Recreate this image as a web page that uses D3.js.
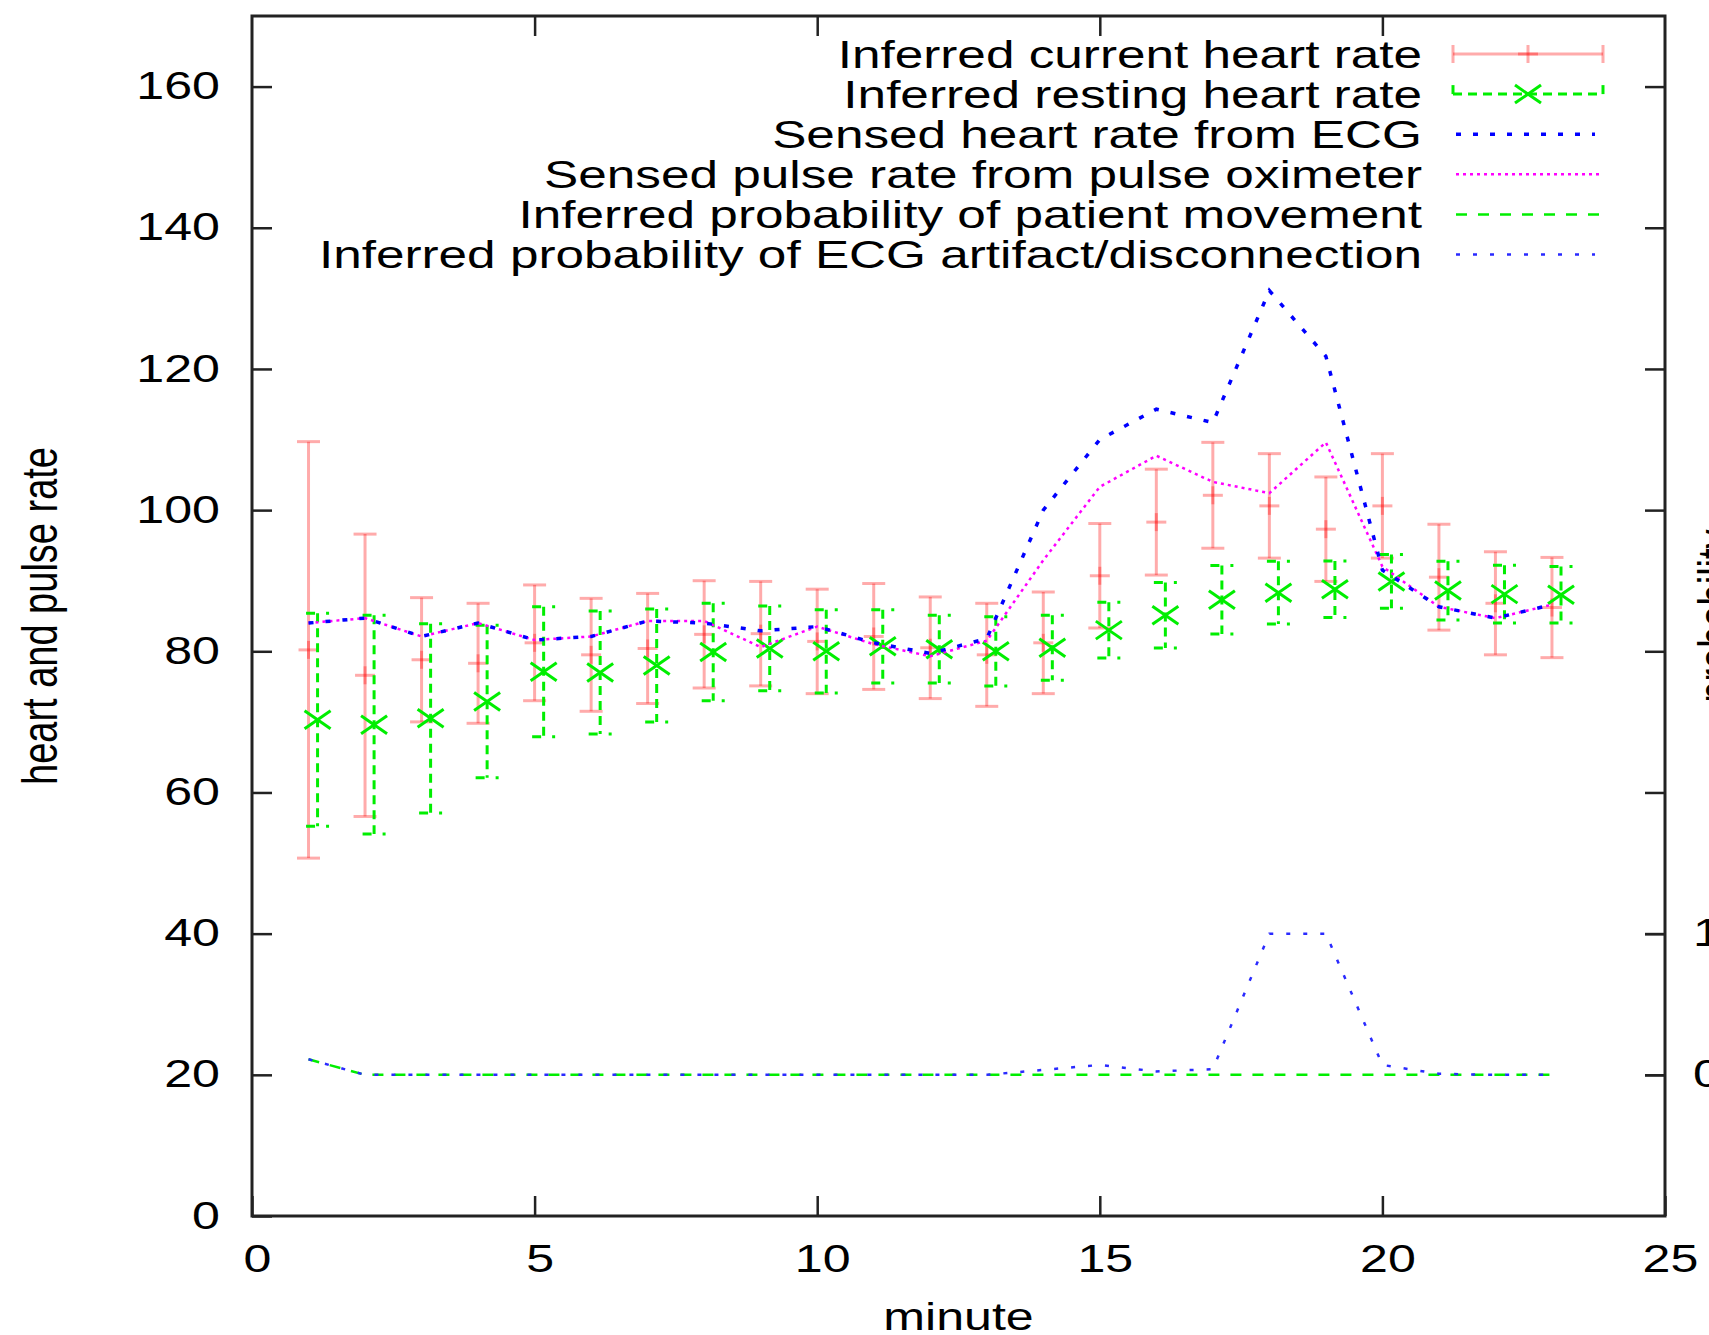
<!DOCTYPE html>
<html><head><meta charset="utf-8">
<script src="https://cdn.jsdelivr.net/npm/d3@7"></script>
<style>
body{margin:0;background:#fff;overflow:hidden}
text{font-family:"Liberation Sans",Arial,Helvetica,sans-serif;fill:#000}
</style>
</head><body>
<svg id="chart" width="1709" height="1335"></svg>
<script>
// ---------- data ----------
const minutes = [1,2,3,4,5,6,7,8,9,10,11,12,13,14,15,16,17,18,19,20,21,22,23];
const currentHR = [80.2,76.6,78.8,78.3,81.2,79.5,80.4,82.4,82.5,81.4,82.1,80.5,79.5,81.2,90.7,98.3,102.1,100.6,97.3,100.6,90.5,86.8,86.2];
const currentHRErr = [29.5,20.0,8.8,8.5,8.2,8.0,7.8,7.6,7.4,7.4,7.5,7.2,7.3,7.2,7.4,7.5,7.5,7.4,7.4,7.4,7.5,7.3,7.1];
const restingHR = [70.3,69.6,70.5,72.9,77.1,77.0,78.0,79.9,80.4,80.0,80.7,80.3,80.0,80.5,83.0,85.1,87.3,88.3,88.8,89.9,88.6,88.1,88.0];
const restingHRErr = [15.1,15.5,13.4,10.8,9.2,8.7,8.0,6.9,6.0,5.9,5.2,4.8,4.9,4.6,3.95,4.65,4.85,4.45,4.0,3.8,4.15,4.1,4.0];
const restingShift = 0.16; // resting series plotted slightly right of each minute
const ecgHR = [84.0,84.7,82.1,84.0,81.6,82.1,84.3,84.0,82.9,83.5,81.2,79.7,81.8,100.0,110.0,114.3,112.4,131.1,121.8,91.5,86.3,84.7,86.6];
const pulseRate = [84.0,84.7,82.1,84.0,81.6,82.1,84.3,84.3,80.6,83.5,81.0,79.3,81.5,92.9,103.3,107.7,104.0,102.4,109.6,92.0,86.3,84.7,86.6];
const movementProb = [0.11,0,0,0,0,0,0,0,0,0,0,0,0,0,0,0,0,0,0,0,0,0,0];
const artifactProb = [0.11,0,0,0,0,0,0,0,0,0,0,0,0,0.035,0.07,0.024,0.04,1.0,1.0,0.07,0.007,0,0];
const xTicks = [0,5,10,15,20,25];
const yTicks = [0,20,40,60,80,100,120,140,160];
const y2Ticks = [0,1];
const legendLabels = [
  "Inferred current heart rate",
  "Inferred resting heart rate",
  "Sensed heart rate from ECG",
  "Sensed pulse rate from pulse oximeter",
  "Inferred probability of patient movement",
  "Inferred probability of ECG artifact/disconnection"
];
const xLabel = "minute", yLabel = "heart and pulse rate", y2Label = "probability";

// ---------- layout ----------
const M = {left:252, top:16, right:1665, bottom:1216};
const FS = 38, SX = 1.32, SXL = 1.35;
const RED = "#ff0000", REDOP = 0.33, GREEN = "#00ee00", BLUE = "#0000ff", MAG = "#ff00ff";

const svg = d3.select("#chart");
const x = d3.scaleLinear().domain([0,25]).range([M.left, M.right]);
const y = d3.scaleLinear().domain([0,170]).range([M.bottom, M.top]);
const y2 = d3.scaleLinear().domain([-1,7.5]).range([M.bottom, M.top]);

const g = svg.append("g");

// ---------- red error bars (current HR) ----------
const capW = 23;
const red = g.append("g").attr("stroke", RED).attr("stroke-opacity", REDOP).attr("stroke-width", 3).attr("fill","none");
minutes.forEach((m,i)=>{
  const cx = x(m), lo = y(currentHR[i]-currentHRErr[i]), hi = y(currentHR[i]+currentHRErr[i]), cy = y(currentHR[i]);
  red.append("line").attr("x1",cx).attr("x2",cx).attr("y1",lo).attr("y2",hi);
  red.append("line").attr("x1",cx-capW/2).attr("x2",cx+capW/2).attr("y1",lo).attr("y2",lo);
  red.append("line").attr("x1",cx-capW/2).attr("x2",cx+capW/2).attr("y1",hi).attr("y2",hi);
  red.append("line").attr("x1",cx-10).attr("x2",cx+10).attr("y1",cy).attr("y2",cy);
  red.append("line").attr("x1",cx).attr("x2",cx).attr("y1",cy-9).attr("y2",cy+9);
});

// ---------- green error bars (resting HR) ----------
const green = g.append("g").attr("stroke", GREEN).attr("stroke-width", 3).attr("fill","none");
minutes.forEach((m,i)=>{
  const cx = x(m+restingShift), lo = y(restingHR[i]-restingHRErr[i]), hi = y(restingHR[i]+restingHRErr[i]), cy = y(restingHR[i]);
  green.append("line").attr("x1",cx).attr("x2",cx).attr("y1",hi).attr("y2",lo).attr("stroke-dasharray","9,6");
  green.append("line").attr("x1",cx-capW/2).attr("x2",cx+capW/2).attr("y1",lo).attr("y2",lo).attr("stroke-dasharray","9,11");
  green.append("line").attr("x1",cx-capW/2).attr("x2",cx+capW/2).attr("y1",hi).attr("y2",hi).attr("stroke-dasharray","9,11");
  green.append("line").attr("x1",cx-13).attr("x2",cx+13).attr("y1",cy-9).attr("y2",cy+9);
  green.append("line").attr("x1",cx-13).attr("x2",cx+13).attr("y1",cy+9).attr("y2",cy-9);
});

// ---------- lines ----------
const lineY = d3.line().x(d=>x(d[0])).y(d=>y(d[1]));
const lineY2 = d3.line().x(d=>x(d[0])).y(d=>y2(d[1]));
g.append("path").datum(minutes.map((m,i)=>[m,movementProb[i]])).attr("d",lineY2)
  .attr("fill","none").attr("stroke",GREEN).attr("stroke-width",2.5).attr("stroke-dasharray","11,11");
g.append("path").datum(minutes.map((m,i)=>[m,artifactProb[i]])).attr("d",lineY2)
  .attr("fill","none").attr("stroke","#2a2aff").attr("stroke-width",2.5).attr("stroke-dasharray","4,13");
g.append("path").datum(minutes.map((m,i)=>[m,pulseRate[i]])).attr("d",lineY)
  .attr("fill","none").attr("stroke",MAG).attr("stroke-width",2.5).attr("stroke-dasharray","3,4");
g.append("path").datum(minutes.map((m,i)=>[m,ecgHR[i]])).attr("d",lineY)
  .attr("fill","none").attr("stroke",BLUE).attr("stroke-width",3.5).attr("stroke-dasharray","5,12");

// ---------- axes ----------
function styleAxis(sel, sx, dx){
  sel.attr("font-size",FS).attr("font-family",null);
  sel.select(".domain").remove();
  sel.selectAll(".tick line").attr("stroke","#222").attr("stroke-width",2.5);
  sel.selectAll(".tick text").each(function(){
    const t = d3.select(this);
    const xv = +t.attr("x") || 0;
    t.attr("x", (xv + (dx||0))/sx).attr("transform",`scale(${sx},1)`).attr("fill","#000");
  });
}
svg.append("g").attr("transform",`translate(${M.left},0)`)
  .call(d3.axisLeft(y).tickValues(yTicks).tickSizeInner(-20).tickSizeOuter(0).tickPadding(32))
  .call(s=>styleAxis(s,SX,0));
svg.append("g").attr("transform",`translate(0,${M.bottom})`)
  .call(d3.axisBottom(x).tickValues(xTicks).tickSizeInner(-20).tickSizeOuter(0).tickPadding(29).tickFormat(d3.format("d")))
  .call(s=>styleAxis(s,SX,5));
svg.append("g").attr("transform",`translate(0,${M.top})`)
  .call(d3.axisTop(x).tickValues(xTicks.slice(1,-1)).tickSizeInner(-20).tickSizeOuter(0).tickFormat(""))
  .call(s=>styleAxis(s,1,0));
svg.append("g").attr("transform",`translate(${M.right},0)`)
  .call(d3.axisRight(y).tickValues(yTicks.slice(1)).tickSizeInner(-20).tickSizeOuter(0).tickFormat(""))
  .call(s=>styleAxis(s,1,0));
svg.append("g").attr("transform",`translate(${M.right},0)`)
  .call(d3.axisRight(y2).tickValues(y2Ticks).tickSizeInner(-20).tickSizeOuter(0).tickPadding(28).tickFormat(d3.format("d")))
  .call(s=>styleAxis(s,SX,0));

// frame
svg.append("rect").attr("x",M.left).attr("y",M.top).attr("width",M.right-M.left).attr("height",M.bottom-M.top)
  .attr("fill","none").attr("stroke","#222").attr("stroke-width",3);

// axis labels
svg.append("text").attr("transform",`translate(${(M.left+M.right)/2},1330) scale(${SX},1)`)
  .attr("text-anchor","middle").attr("font-size",FS).text(xLabel);
svg.append("text").attr("transform",`translate(57,${(M.top+M.bottom)/2}) rotate(-90) scale(1,${SX})`)
  .attr("text-anchor","middle").attr("font-size",FS).text(yLabel);
svg.append("text").attr("transform",`translate(1733,${(M.top+M.bottom)/2}) rotate(-90) scale(1,${SX})`)
  .attr("text-anchor","middle").attr("font-size",FS).text(y2Label);

// ---------- legend ----------
const lg = svg.append("g");
const lx0 = 1453, lx1 = 1603, lmid = 1528;
legendLabels.forEach((lab,i)=>{
  const cy = 54 + i*40.1;
  lg.append("text").attr("transform",`translate(1422,${cy+13.5}) scale(${SXL},1)`)
    .attr("text-anchor","end").attr("font-size",FS).text(lab);
});
{
  const cy = 54;
  const r = lg.append("g").attr("stroke",RED).attr("stroke-opacity",REDOP).attr("stroke-width",3);
  r.append("line").attr("x1",lx0).attr("x2",lx1).attr("y1",cy).attr("y2",cy);
  r.append("line").attr("x1",lx0).attr("x2",lx0).attr("y1",cy-9).attr("y2",cy+9);
  r.append("line").attr("x1",lx1).attr("x2",lx1).attr("y1",cy-9).attr("y2",cy+9);
  r.append("line").attr("x1",lmid-10).attr("x2",lmid+10).attr("y1",cy).attr("y2",cy);
  r.append("line").attr("x1",lmid).attr("x2",lmid).attr("y1",cy-9).attr("y2",cy+9);
}
{
  const cy = 54 + 40.1;
  const gg = lg.append("g").attr("stroke",GREEN).attr("stroke-width",3);
  gg.append("line").attr("x1",lx0).attr("x2",lx1).attr("y1",cy).attr("y2",cy).attr("stroke-dasharray","9,6");
  gg.append("line").attr("x1",lx0).attr("x2",lx0).attr("y1",cy-9).attr("y2",cy+9).attr("stroke-dasharray","9,9");
  gg.append("line").attr("x1",lx1).attr("x2",lx1).attr("y1",cy-9).attr("y2",cy+9).attr("stroke-dasharray","9,9");
  gg.append("line").attr("x1",lmid-13).attr("x2",lmid+13).attr("y1",cy-9).attr("y2",cy+9);
  gg.append("line").attr("x1",lmid-13).attr("x2",lmid+13).attr("y1",cy+9).attr("y2",cy-9);
}
const legendLines = [
  {i:2, stroke:BLUE, w:3.5, dash:"5,12", x1:1595},
  {i:3, stroke:MAG, w:2.5, dash:"3,4", x1:1603},
  {i:4, stroke:GREEN, w:2.5, dash:"11,11", x1:1603},
  {i:5, stroke:"#2a2aff", w:2.5, dash:"4,13", x1:1595}
];
legendLines.forEach(d=>{
  const cy = 54 + d.i*40.1;
  lg.append("line").attr("x1",1456).attr("x2",d.x1).attr("y1",cy).attr("y2",cy)
    .attr("stroke",d.stroke).attr("stroke-width",d.w).attr("stroke-dasharray",d.dash);
});
</script>
</body></html>
